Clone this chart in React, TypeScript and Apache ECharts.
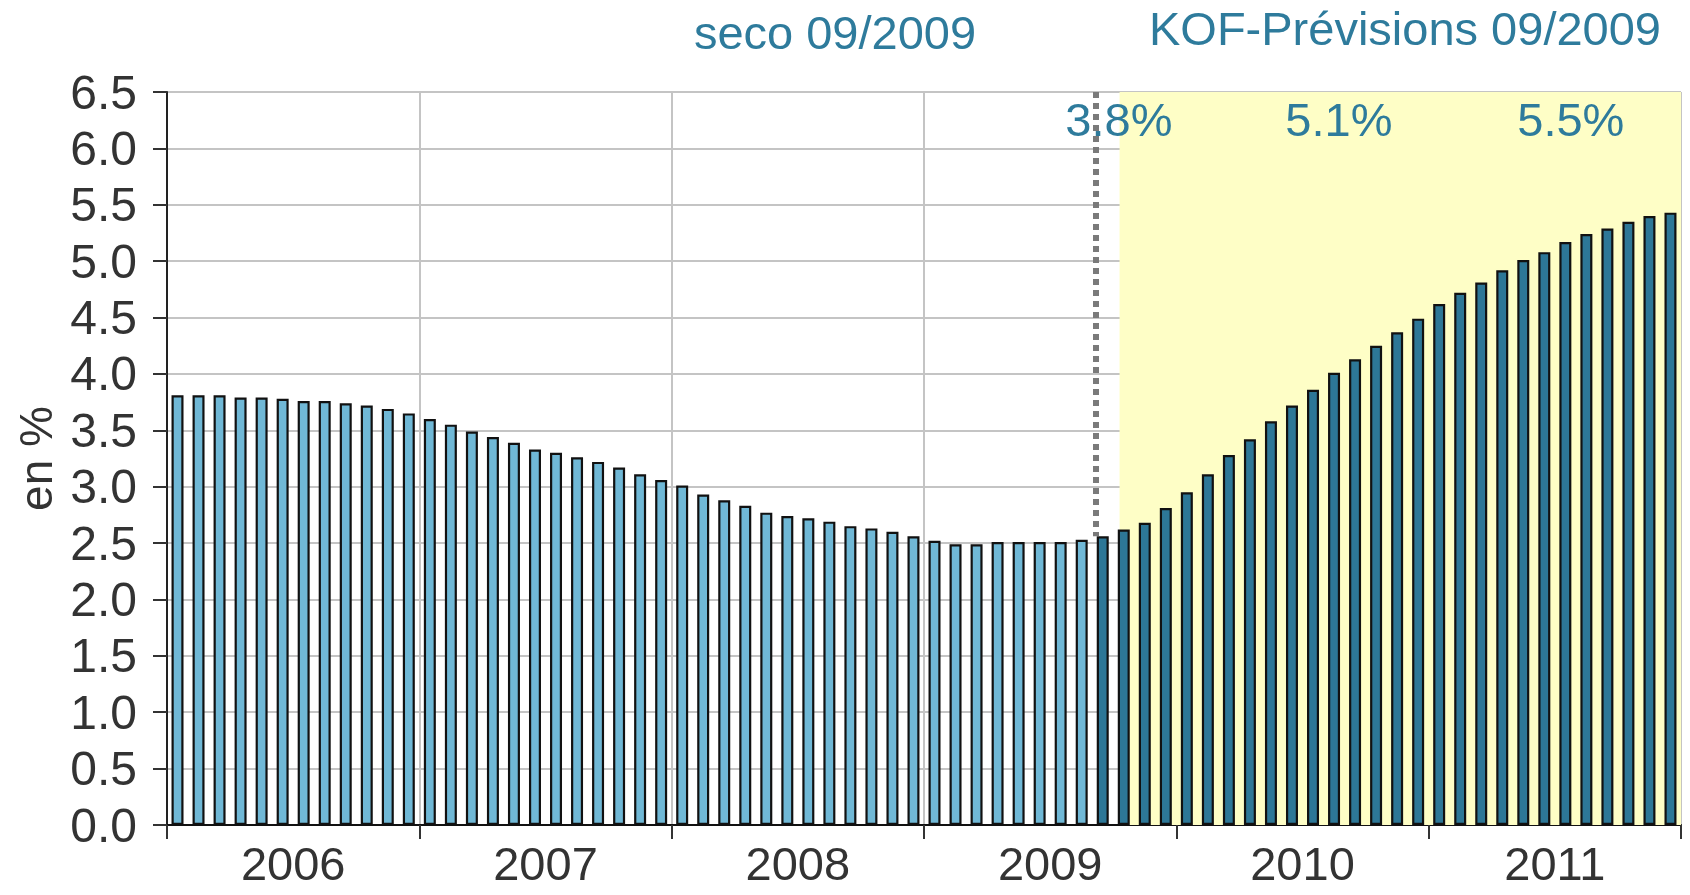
import React, { useEffect, useRef } from "react";
import * as echarts from "echarts";

// ---- data ----
const years = ["2006", "2007", "2008", "2009", "2010", "2011"];

// monthly values Jan 2006 .. Aug 2009 (seco)
const observed = [
  3.81, 3.81, 3.81, 3.79, 3.79, 3.78, 3.76, 3.76, 3.74, 3.72, 3.69, 3.65,
  3.6, 3.55, 3.49, 3.44, 3.39, 3.33, 3.3, 3.26, 3.22, 3.17, 3.11, 3.06,
  3.01, 2.93, 2.88, 2.83, 2.77, 2.74, 2.72, 2.69, 2.65, 2.63, 2.6, 2.56,
  2.52, 2.49, 2.49, 2.51, 2.51, 2.51, 2.51, 2.53,
];

// monthly values Sep 2009 .. Dec 2011 (KOF forecast)
const forecast = [
  2.56, 2.62, 2.68, 2.81,
  2.95, 3.11, 3.28, 3.42, 3.58, 3.72, 3.86, 4.01, 4.13, 4.25, 4.37, 4.49,
  4.62, 4.72, 4.81, 4.92, 5.01, 5.08, 5.17, 5.24, 5.29, 5.35, 5.4, 5.43,
];

const annotationLabels = ["3.8%", "5.1%", "5.5%"];
const annotationMonth = [45.27, 55.73, 66.76]; // position in months from Jan 2006
const annotationValue = [6.26, 6.26, 6.26];

const titles = ["seco 09/2009", "KOF-Prévisions 09/2009"];
const forecastShadeStart = 45.3; // months from Jan 2006
const cutoffMonth = 44.15;

const FONT = "'Liberation Sans', Arial, sans-serif";
const TEAL = "#2E7B9C";
const LIGHT = "#70B8D6";
const DARK = "#2D7797";
const GRID = "#C4C4C4";

export default function App() {
  const ref = useRef<HTMLDivElement>(null);

  useEffect(() => {
    const chart = echarts.init(ref.current!, null, { renderer: "svg" });

    const months: string[] = [];
    years.forEach((y) => {
      for (let m = 1; m <= 12; m++) months.push(`${y}-${m < 10 ? "0" + m : m}`);
    });

    const barData = [
      ...observed.map((v) => ({ value: v, itemStyle: { color: LIGHT } })),
      ...forecast.map((v) => ({ value: v, itemStyle: { color: DARK } })),
    ];

    const annotations = annotationLabels.map((t, i) => ({
      name: t,
      value: [annotationMonth[i], annotationValue[i]],
    }));

    chart.setOption({
      animation: false,
      textStyle: { fontFamily: FONT },
      title: [
        {
          text: titles[0],
          left: 830,
          top: 4,
          textAlign: "center",
          textStyle: { fontSize: 47, fontWeight: "normal", color: TEAL, fontFamily: FONT },
        },
        {
          text: titles[1],
          left: 1400,
          top: 0,
          textAlign: "center",
          textStyle: { fontSize: 47, fontWeight: "normal", color: TEAL, fontFamily: FONT },
        },
      ],
      grid: { left: 167, right: 9, top: 92, bottom: 70, containLabel: false },
      xAxis: [
        { type: "category", data: months, show: false, position: "bottom", boundaryGap: true },
        {
          type: "category",
          data: years,
          position: "bottom",
          boundaryGap: true,
          axisLine: { show: true, lineStyle: { color: "#111", width: 2 } },
          axisTick: { show: true, length: 14, interval: 0, lineStyle: { color: "#333", width: 2 } },
          axisLabel: {
            fontSize: 47,
            lineHeight: 40,
            color: "#333",
            margin: 18,
            interval: 0,
            fontFamily: FONT,
          },
          splitLine: { show: true, interval: 0, lineStyle: { color: GRID, width: 2 } },
        },
        { type: "value", min: 0, max: 72, show: false, position: "bottom" },
      ],
      yAxis: {
        type: "value",
        min: 0,
        max: 6.5,
        interval: 0.5,
        name: "en %",
        nameLocation: "middle",
        nameGap: 108,
        nameTextStyle: { fontSize: 46, color: "#333", fontFamily: FONT },
        axisLine: { show: true, lineStyle: { color: "#222", width: 2 } },
        axisTick: { show: true, length: 14, lineStyle: { color: "#333", width: 2 } },
        axisLabel: {
          fontSize: 48,
          color: "#333",
          margin: 30,
          fontFamily: FONT,
          formatter: (v: number) => v.toFixed(1),
        },
        splitLine: { show: true, lineStyle: { color: GRID, width: 2 } },
      },
      series: [
        {
          type: "line",
          xAxisIndex: 2,
          yAxisIndex: 0,
          data: [[0, 0]],
          symbol: "none",
          lineStyle: { opacity: 0 },
          silent: true,
          z: -1,
          markArea: {
            silent: true,
            itemStyle: { color: "#FEFEC6" },
            data: [[{ xAxis: forecastShadeStart }, { xAxis: 72 }]],
          },
        },
        {
          type: "line",
          xAxisIndex: 2,
          yAxisIndex: 0,
          data: [[0, 0]],
          symbol: "none",
          lineStyle: { opacity: 0 },
          silent: true,
          z: 1,
          markLine: {
            silent: true,
            symbol: "none",
            label: { show: false },
            lineStyle: { color: "#7A7A7A", width: 6, type: [6, 5], opacity: 1 },
            data: [[{ coord: [cutoffMonth, 6.5] }, { coord: [cutoffMonth, forecast[0]] }]],
          },
        },
        {
          type: "bar",
          xAxisIndex: 0,
          yAxisIndex: 0,
          data: barData,
          barWidth: 12,
          itemStyle: { borderColor: "#111", borderWidth: 2.2 },
          z: 3,
        },
        {
          type: "scatter",
          xAxisIndex: 2,
          yAxisIndex: 0,
          symbolSize: 0,
          data: annotations,
          silent: true,
          z: 5,
          itemStyle: { opacity: 1 },
          label: {
            show: true,
            position: "inside",
            formatter: "{b}",
            fontSize: 47,
            color: TEAL,
            opacity: 1,
            fontFamily: FONT,
          },
        },
      ],
    });

    return () => chart.dispose();
  }, []);

  return (
    <div
      ref={ref}
      style={{ position: "fixed", left: 0, top: 0, width: 1690, height: 895 }}
    />
  );
}
